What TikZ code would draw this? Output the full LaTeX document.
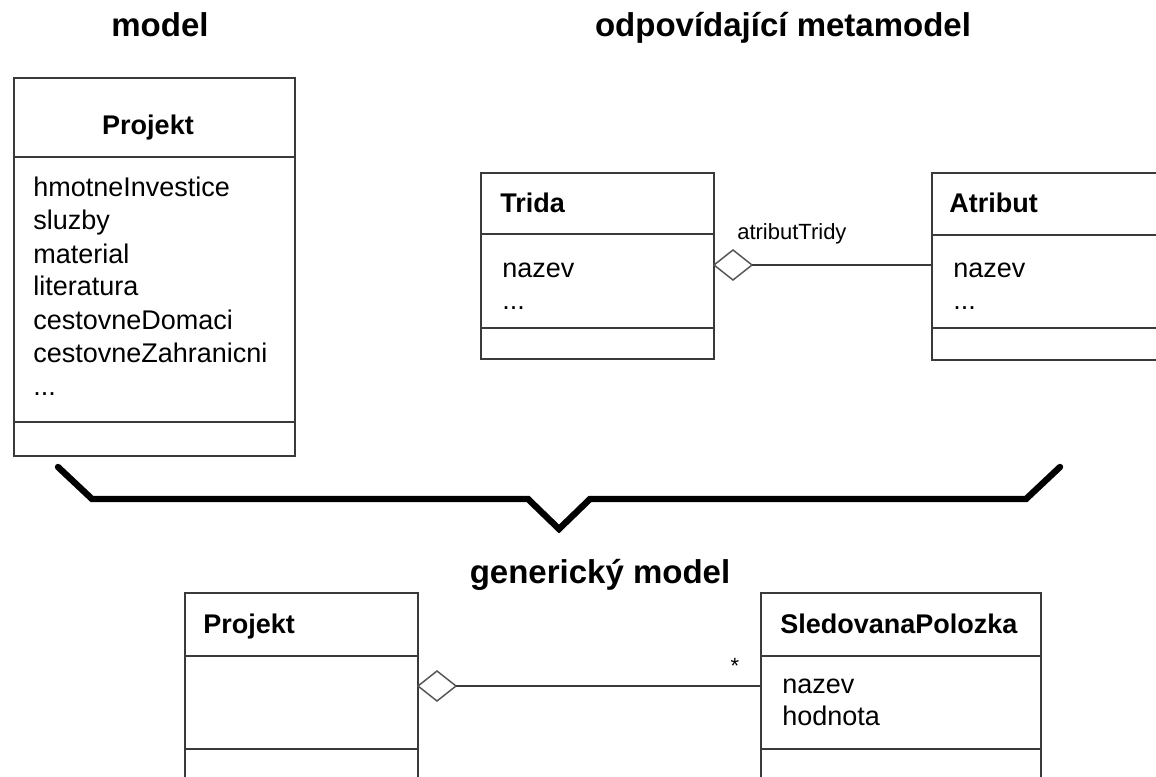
\documentclass[tikz,border=0pt]{standalone}
\usepackage{fontspec}
\setmainfont{Liberation Sans}
\usetikzlibrary{shapes.geometric}
\definecolor{boxgray}{HTML}{3A3A3A}
\definecolor{dgray}{HTML}{555555}
\begin{document}
\begin{tikzpicture}[x=0.75pt,y=-0.75pt,
  box/.style={draw=boxgray,line width=1.5pt,inner sep=0pt,outer sep=0pt,anchor=north west},
  divider/.style={draw=boxgray,line width=1.5pt},
  heading/.style={font=\fontsize{24.75}{28}\selectfont\bfseries,anchor=base,inner sep=0pt},
  cname/.style={font=\fontsize{20.25}{24}\selectfont\bfseries,anchor=base west,inner sep=0pt},
  attr/.style={font=\fontsize{20.25}{24}\selectfont,anchor=base west,inner sep=0pt},
  lbl/.style={font=\fontsize{16.5}{20}\selectfont,anchor=base west,inner sep=0pt},
  aggr/.style={diamond,draw=dgray,line width=1.1pt,fill=white,inner sep=0pt,outer sep=0pt,
     minimum width=28.5pt,minimum height=22.5pt,anchor=west},
  conn/.style={draw=boxgray,line width=1.5pt},
  bracel/.style={line width=4.8pt,line cap=round,line join=miter}
]
\clip (0,0) rectangle (1156,777);
\fill[white] (0,0) rectangle (1156,777);

% headings
\node[heading] (hmodel) at (160,37) {model};
\node[heading] (hmeta) at (783,37) {odpovídající metamodel};
\node[heading] (hgen) at (600,583) {generický model};

% model: Projekt
\node[box,minimum width=210.75pt,minimum height=283.5pt] (mproj) at (14,78) {};
\draw[divider] (mproj.west |- 0,157) -- (mproj.east |- 0,157);
\draw[divider] (mproj.west |- 0,422) -- (mproj.east |- 0,422);
\node[cname,anchor=base] (mprojt) at (148,135) {Projekt};
\node[attr] (a1) at (33,197) {hmotneInvestice};
\node[attr] (a2) at (33,230) {sluzby};
\node[attr] (a3) at (33,263) {material};
\node[attr] (a4) at (33,296) {literatura};
\node[attr] (a5) at (33,329) {cestovneDomaci};
\node[attr] (a6) at (33,362) {cestovneZahranicni};
\node[attr] (a7) at (33,395) {...};

% metamodel: Trida
\node[box,minimum width=174.75pt,minimum height=139.5pt] (trida) at (481,173) {};
\draw[divider] (trida.west |- 0,234) -- (trida.east |- 0,234);
\draw[divider] (trida.west |- 0,328) -- (trida.east |- 0,328);
\node[cname] (tridat) at (500,213) {Trida};
\node[attr] (t1) at (502,277) {nazev};
\node[attr] (t2) at (502,310) {...};

% metamodel: Atribut
\node[box,minimum width=225pt,minimum height=140.25pt] (atribut) at (932,173) {};
\draw[divider] (atribut.west |- 0,235) -- (atribut.east |- 0,235);
\draw[divider] (atribut.west |- 0,328) -- (atribut.east |- 0,328);
\node[cname] (atributt) at (949,213) {Atribut};
\node[attr] (b1) at (953,277) {nazev};
\node[attr] (b2) at (953,310) {...};

% aggregation Trida - Atribut
\node[aggr] (d1) at (trida.east |- 0,265) {};
\draw[conn] (d1.east) -- (atribut.west |- d1.east);
\node[lbl] (lab1) at (737,240) {atributTridy};

% brace
\draw[bracel] (58,467) -- (92,499) -- (528,499) -- (559,529) -- (590,499) -- (1026,499) -- (1060,467);

% generic model: Projekt
\node[box,minimum width=174.75pt,minimum height=170.25pt] (gproj) at (185,593) {};
\draw[divider] (gproj.west |- 0,656) -- (gproj.east |- 0,656);
\draw[divider] (gproj.west |- 0,749) -- (gproj.east |- 0,749);
\node[cname] (gprojt) at (203,633) {Projekt};

% generic model: SledovanaPolozka
\node[box,minimum width=210pt,minimum height=170.25pt] (sled) at (761,593) {};
\draw[divider] (sled.west |- 0,656) -- (sled.east |- 0,656);
\draw[divider] (sled.west |- 0,749) -- (sled.east |- 0,749);
\node[cname] (sledt) at (780,633) {SledovanaPolozka};
\node[attr] (s1) at (782,693) {nazev};
\node[attr] (s2) at (782,725) {hodnota};

% aggregation Projekt - SledovanaPolozka
\node[aggr] (d2) at (gproj.east |- 0,686) {};
\draw[conn] (d2.east) -- (sled.west |- d2.east);
\node[lbl,anchor=base] (star) at (735,673) {*};
\end{tikzpicture}
\end{document}
